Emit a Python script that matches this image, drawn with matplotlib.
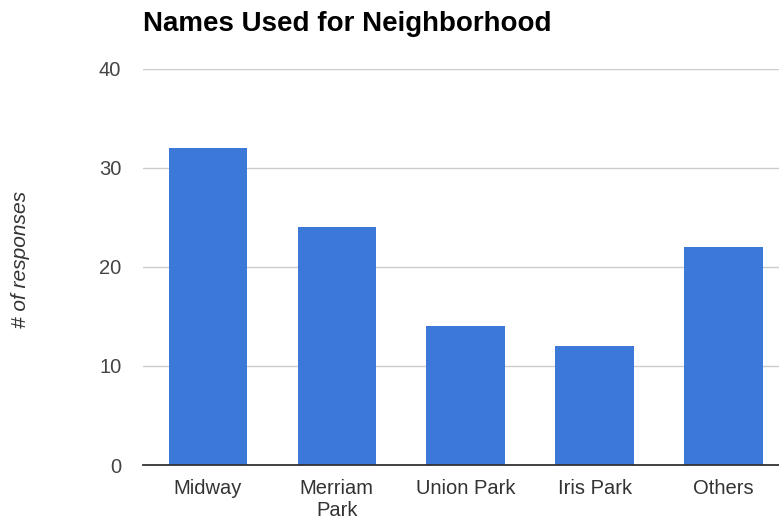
import numpy as np
import matplotlib
matplotlib.use("Agg")
import matplotlib.pyplot as plt

# responses per neighborhood name
names = ["Midway", "Merriam\nPark", "Union Park", "Iris Park", "Others"]
counts = [32, 24, 14, 12, 22]
y_ticks = [0, 10, 20, 30, 40]

plt.rcParams['font.family'] = ['Liberation Sans', 'DejaVu Sans']

fig = plt.figure(figsize=(7.79, 5.27), dpi=100)
ax = fig.add_axes([0.1842, 0.1176, 0.8274, 0.7524])

x = np.arange(len(names))
ax.bar(x, counts, width=0.61, color="#3c78d8", zorder=3)

ax.set_xlim(-0.5, len(names) - 0.5)
ax.set_ylim(0, 40)
ax.set_yticks(y_ticks)
ax.set_xticks(x)
ax.set_xticklabels(names, fontsize=14.5, color="#333333", linespacing=1.2)
ax.tick_params(axis="y", length=0, pad=16, labelsize=14.5, labelcolor="#444444")
ax.tick_params(axis="x", length=0, pad=10)

ax.grid(axis="y", color="#cccccc", linewidth=1, zorder=0)
for side in ["top", "right", "left"]:
    ax.spines[side].set_visible(False)
ax.spines["bottom"].set_color("#333333")
ax.spines["bottom"].set_linewidth(1.3)
ax.spines["bottom"].set_zorder(4)

fig.text(0.026, 0.507, "# of responses", rotation=90, style="italic",
         fontsize=15, color="#333333", ha="center", va="center")
fig.text(0.1842, 0.942, "Names Used for Neighborhood", fontsize=20,
         fontweight="bold", color="#000000", ha="left", va="baseline")

fig.savefig("out.png", dpi=100)
